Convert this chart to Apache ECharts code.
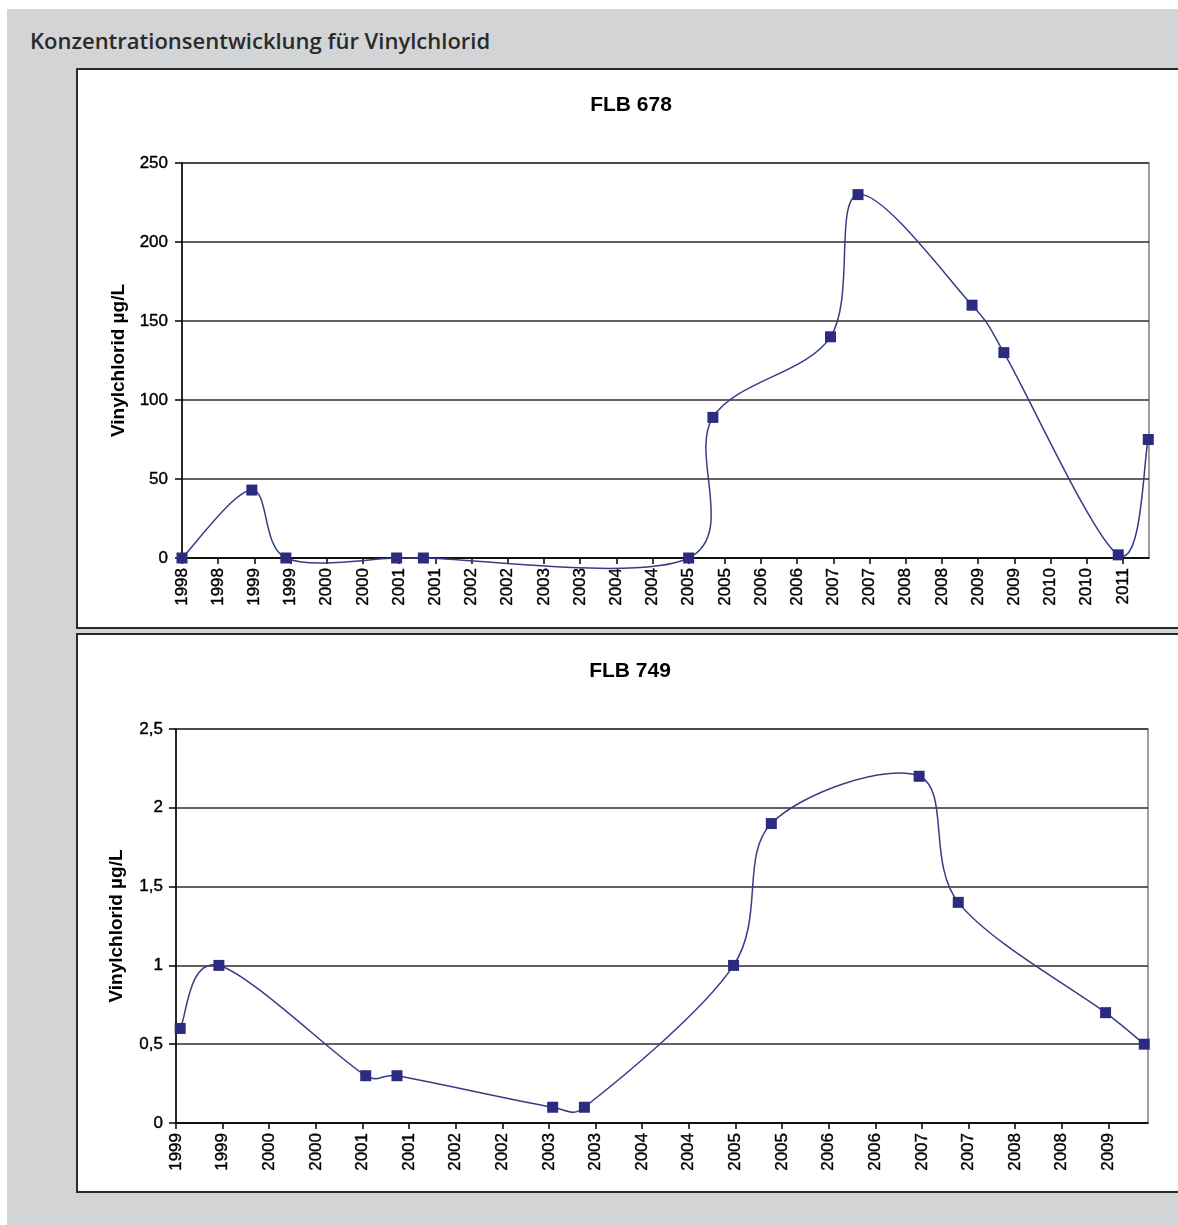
<!DOCTYPE html>
<html><head><meta charset="utf-8">
<script src="https://cdn.jsdelivr.net/npm/echarts/dist/echarts.min.js"></script>
<style>
html,body{margin:0;padding:0;width:1178px;height:1225px;overflow:hidden;background:#fff;}
#bg{position:absolute;left:7px;top:9px;width:1171px;height:1216px;background:#d3d4d6;}
#head{position:absolute;left:30px;top:26px;line-height:28px;font-family:"Open Sans",sans-serif;font-weight:600;font-size:22px;color:#2a2a2a;white-space:nowrap;}
.panel{position:absolute;left:76px;width:1130px;background:#fff;border:2px solid #2a2a2a;box-sizing:border-box;}
#p1{top:68px;height:561px;}
#p2{top:633px;height:560px;}
#chart{position:absolute;left:0;top:0;width:1178px;height:1225px;}
</style></head>
<body>
<div id="bg"></div>
<div id="head">Konzentrationsentwicklung für Vinylchlorid</div>
<div class="panel" id="p1"></div>
<div class="panel" id="p2"></div>
<div id="chart"></div>
<script>
// FLB 678 — x in half-year tick units of the Excel date axis
const topTickLabels = ['1998','1998','1999','1999','2000','2000','2001','2001','2002','2002','2003','2003','2004','2004','2005','2005','2006','2006','2007','2007','2008','2008','2009','2009','2010','2010','2011'];
const topX = [0, 1.93, 2.87, 5.93, 6.67, 14.0, 14.67, 17.92, 18.68, 21.83, 22.71, 25.87, 26.7];
const topY = [0, 43, 0, 0, 0, 0, 89, 140, 230, 160, 130, 2, 75];

// FLB 749
const botTickLabels = ['1999','1999','2000','2000','2001','2001','2002','2002','2003','2003','2004','2004','2005','2005','2006','2006','2007','2007','2008','2008','2009'];
const botX = [0.09, 0.92, 4.07, 4.74, 8.08, 8.76, 11.96, 12.77, 15.94, 16.78, 19.94, 20.77];
const botY = [0.6, 1.0, 0.3, 0.3, 0.1, 0.1, 1.0, 1.9, 2.2, 1.4, 0.7, 0.5];

const titles = ['FLB 678', 'FLB 749'];
const yName = 'Vinylchlorid µg/L';

const FONT = '"Liberation Sans", Arial, sans-serif';
const INK = '#000';
const NAVY = '#2b2b7f';

function xAxis(gi, max, labels) {
  return {
    type: 'value', gridIndex: gi, min: 0, max: max, interval: 1,
    axisLine: { show: true, onZero: false, lineStyle: { color: '#000', width: 1.5 } },
    axisTick: { show: true, length: 6, lineStyle: { color: '#000', width: 1.5 } },
    axisLabel: {
      rotate: 90, margin: 10, fontFamily: FONT, fontSize: 17, color: INK,
      textBorderColor: '#000', textBorderWidth: 0.4,
      showMaxLabel: false,
      formatter: function (v) {
        const r = Math.round(v);
        return Math.abs(v - r) < 1e-6 ? (labels[r] || '') : '';
      }
    },
    splitLine: { show: false }
  };
}
function yAxis(gi, max, interval, margin, fmt) {
  return {
    type: 'value', gridIndex: gi, min: 0, max: max, interval: interval,
    name: yName, nameLocation: 'middle', nameGap: 50,
    nameTextStyle: { fontFamily: FONT, fontWeight: 'bold', fontSize: 19, color: INK },
    axisLine: { show: true, lineStyle: { color: '#000', width: 1.5 } },
    axisTick: { show: true, length: 7, lineStyle: { color: '#000', width: 1.5 } },
    axisLabel: { margin: margin, fontFamily: FONT, fontSize: 17, color: INK,
      textBorderColor: '#000', textBorderWidth: 0.4, formatter: fmt },
    splitLine: { show: true, lineStyle: { color: '#2e2e2e', width: 1.5 } }
  };
}
// Excel-style smoothed line: cubic Bezier per segment, handle = (next - prev) * f,
// f = 1/6 capped so a handle never exceeds half of its own segment (pixel space)
function curveSeries(gi, xs, ys) {
  const dist = (a, b) => Math.hypot(a[0] - b[0], a[1] - b[1]);
  return {
    type: 'custom', xAxisIndex: gi, yAxisIndex: gi, silent: true, clip: false, z: 2,
    data: xs.map((x, i) => [x, ys[i]]),
    renderItem: function (params, api) {
      const i = params.dataIndex;
      if (i >= xs.length - 1) return null;
      const P = k => {
        const kk = Math.max(0, Math.min(xs.length - 1, k));
        return api.coord([xs[kk], ys[kk]]);
      };
      const p0 = P(i - 1), p1 = P(i), p2 = P(i + 1), p3 = P(i + 2);
      const d12 = dist(p1, p2), d02 = dist(p0, p2), d13 = dist(p1, p3);
      const f1 = d02 > 0 ? Math.min(1 / 6, 0.5 * d12 / d02) : 0;
      const f2 = d13 > 0 ? Math.min(1 / 6, 0.5 * d12 / d13) : 0;
      const c1 = [p1[0] + (p2[0] - p0[0]) * f1, p1[1] + (p2[1] - p0[1]) * f1];
      const c2 = [p2[0] - (p3[0] - p1[0]) * f2, p2[1] - (p3[1] - p1[1]) * f2];
      return {
        type: 'bezierCurve',
        shape: { x1: p1[0], y1: p1[1], x2: p2[0], y2: p2[1],
                 cpx1: c1[0], cpy1: c1[1], cpx2: c2[0], cpy2: c2[1] },
        style: { stroke: '#3b3b85', lineWidth: 1.5, fill: null }
      };
    },
    animation: false
  };
}
function markerSeries(gi, xs, ys) {
  return {
    type: 'scatter', xAxisIndex: gi, yAxisIndex: gi, z: 3,
    data: xs.map((x, i) => [x, ys[i]]),
    symbol: 'rect', symbolSize: 11,
    itemStyle: { color: NAVY, opacity: 1 },
    animation: false
  };
}

const chart = echarts.init(document.getElementById('chart'), null, { renderer: 'canvas' });
chart.setOption({
  animation: false,
  title: [
    { text: titles[0], left: 631, top: 95, textAlign: 'center', padding: 0,
      textStyle: { fontFamily: FONT, fontWeight: 'bold', fontSize: 21, color: INK } },
    { text: titles[1], left: 630, top: 661, textAlign: 'center', padding: 0,
      textStyle: { fontFamily: FONT, fontWeight: 'bold', fontSize: 21, color: INK } }
  ],
  grid: [
    { left: 182, top: 163, width: 967, height: 395, show: true, borderColor: '#808080', borderWidth: 1.5, containLabel: false },
    { left: 176, top: 729, width: 972, height: 394, show: true, borderColor: '#808080', borderWidth: 1.5, containLabel: false }
  ],
  xAxis: [ xAxis(0, 26.72, topTickLabels), xAxis(1, 20.85, botTickLabels) ],
  yAxis: [
    yAxis(0, 250, 50, 14, v => String(v)),
    yAxis(1, 2.5, 0.5, 13, v => String(v).replace('.', ','))
  ],
  series: [
    curveSeries(0, topX, topY), markerSeries(0, topX, topY),
    curveSeries(1, botX, botY), markerSeries(1, botX, botY)
  ]
});
</script>
</body></html>
